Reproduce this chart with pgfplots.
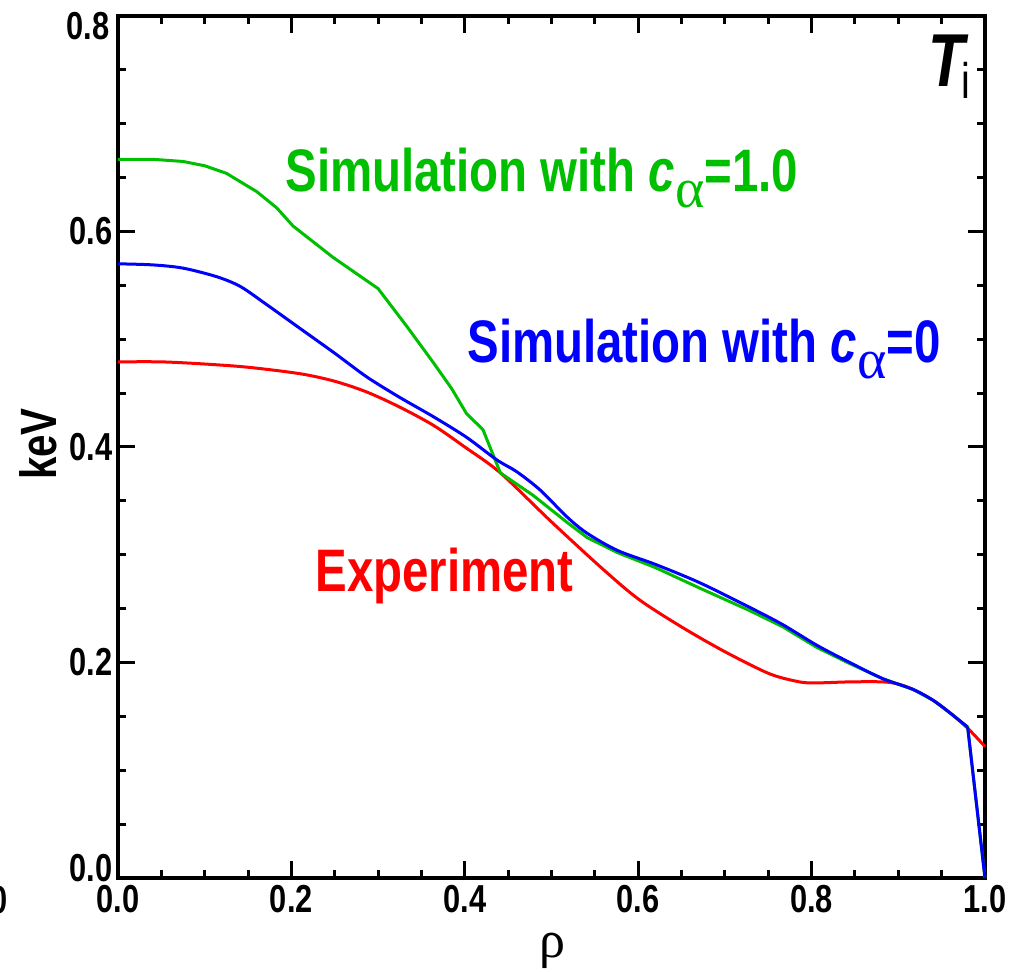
\documentclass[border=0pt]{standalone}
\usepackage{fontspec}
\setmainfont{Liberation Sans}[FakeStretch=0.79]
\newfontfamily\greekfont{Liberation Serif}
\usepackage{pgfplots}
\pgfplotsset{compat=1.18}
\definecolor{simgreen}{RGB}{0,190,0}
\definecolor{simblue}{RGB}{0,0,255}
\definecolor{expred}{RGB}{255,0,0}
\newcommand{\lab}{\fontsize{30}{32}\selectfont\bfseries}
\begin{document}
\begin{tikzpicture}
\useasboundingbox (-59pt,-47pt) rectangle (453.5pt,439pt);
\begin{axis}[
  at={(0,0)}, anchor=south west,
  width=433.5pt, height=431pt, scale only axis,
  xmin=0, xmax=1, ymin=0, ymax=0.8,
  xtick={0,0.2,0.4,0.6,0.8,1.0},
  ytick={0,0.2,0.4,0.6,0.8},
  yticklabels={,0.2,0.4,0.6,},
  minor tick num=3,
  tick align=inside,
  major tick length=8.5pt, minor tick length=4pt,
  axis line style={line width=2pt},
  every tick/.style={black, line width=1.5pt},
  tick label style={font=\fontsize{19.5}{20}\selectfont\bfseries},
  /pgf/number format/assume math mode=true,
  xticklabel style={/pgf/number format/fixed, /pgf/number format/fixed zerofill, /pgf/number format/precision=1},
  yticklabel style={inner xsep=2.5pt},
  clip=false,
  every axis plot/.append style={line width=1.5pt, line join=round},
]
\addplot[expred, smooth, tension=0.5] coordinates {
(0,0.479)(0.05,0.479)(0.1,0.477)(0.15,0.474)(0.21,0.468)(0.25,0.461)(0.287,0.451)(0.325,0.437)(0.364,0.420)(0.40,0.400)(0.441,0.376)(0.498,0.332)(0.556,0.289)(0.60,0.259)(0.65,0.233)(0.70,0.210)(0.75,0.190)(0.78,0.183)(0.80,0.181)(0.844,0.182)(0.882,0.182)(0.90,0.180)(0.917,0.175)(0.94,0.165)(0.96,0.153)(0.98,0.139)(1.0,0.122)};
\addplot[simgreen] coordinates {
(0,0.667)(0.04,0.667)(0.075,0.665)(0.10,0.661)(0.125,0.654)(0.160,0.637)(0.183,0.622)(0.202,0.605)(0.248,0.576)(0.30,0.547)(0.334,0.511)(0.364,0.478)(0.385,0.454)(0.402,0.431)(0.421,0.416)(0.441,0.376)(0.479,0.355)(0.518,0.330)(0.541,0.316)(0.576,0.302)(0.62,0.288)(0.671,0.269)(0.729,0.248)(0.767,0.233)(0.806,0.214)(0.844,0.199)(0.882,0.185)(0.917,0.175)(0.94,0.165)(0.96,0.153)(0.98,0.140)(1.0,0.0)};
\addplot[simblue, smooth, tension=0.5] coordinates {
(0,0.570)(0.04,0.569)(0.075,0.566)(0.114,0.558)(0.141,0.549)(0.17,0.533)(0.21,0.510)(0.25,0.487)(0.287,0.465)(0.325,0.446)(0.364,0.428)(0.402,0.409)(0.437,0.388)(0.46,0.377)(0.487,0.360)(0.518,0.335)(0.541,0.320)(0.576,0.304)(0.62,0.291)(0.671,0.274)(0.729,0.251)(0.767,0.235)(0.806,0.216)(0.844,0.200)(0.882,0.185)(0.917,0.175)(0.94,0.165)(0.96,0.153)(0.98,0.140)};
\addplot[simblue] coordinates {(0.98,0.140)(1.0,0.0)};
\end{axis}
% y tick labels at ends
\node[anchor=south east, inner sep=0pt, font=\fontsize{19.5}{20}\selectfont\bfseries] at (-2.5pt,-2pt) {0.0};
\node[anchor=north east, inner sep=0pt, font=\fontsize{19.5}{20}\selectfont\bfseries] at (-4pt,433pt) {0.8};
% cut label of neighbouring panel
\node[anchor=north east, inner sep=0pt, font=\fontsize{19.5}{20}\selectfont\bfseries] at (-55pt,-4pt) {1.0};
% axis labels
\node[rotate=90, inner sep=0pt, font=\fontsize{25.5}{26}\selectfont\bfseries] at (-40pt,217pt) {keV};
\node[anchor=base, inner sep=0pt, font=\fontsize{26}{26}\selectfont\greekfont] at (217pt,-40pt) {ρ};
% panel tag
\node[anchor=base west, inner sep=0pt] at (405pt,395.5pt) {{\fontsize{37.5}{38}\selectfont\bfseries\itshape T}\kern-1.5pt\raisebox{-6pt}{\fontsize{25}{25}\selectfont i}};
% curve labels
\node[anchor=base west, inner sep=0pt, text=simgreen] at (83.5pt,343pt) {\lab Simulation with \textit{c}\raisebox{-8pt}{\fontsize{28}{28}\mdseries\greekfont α}=1.0};
\node[anchor=base west, inner sep=0pt, text=simblue] at (174.5pt,257.5pt) {\lab Simulation with \textit{c}\raisebox{-8pt}{\fontsize{28}{28}\mdseries\greekfont α}=0};
\node[anchor=base west, inner sep=0pt, text=expred] at (98.5pt,143pt) {\lab Experiment};
\end{tikzpicture}
\end{document}
